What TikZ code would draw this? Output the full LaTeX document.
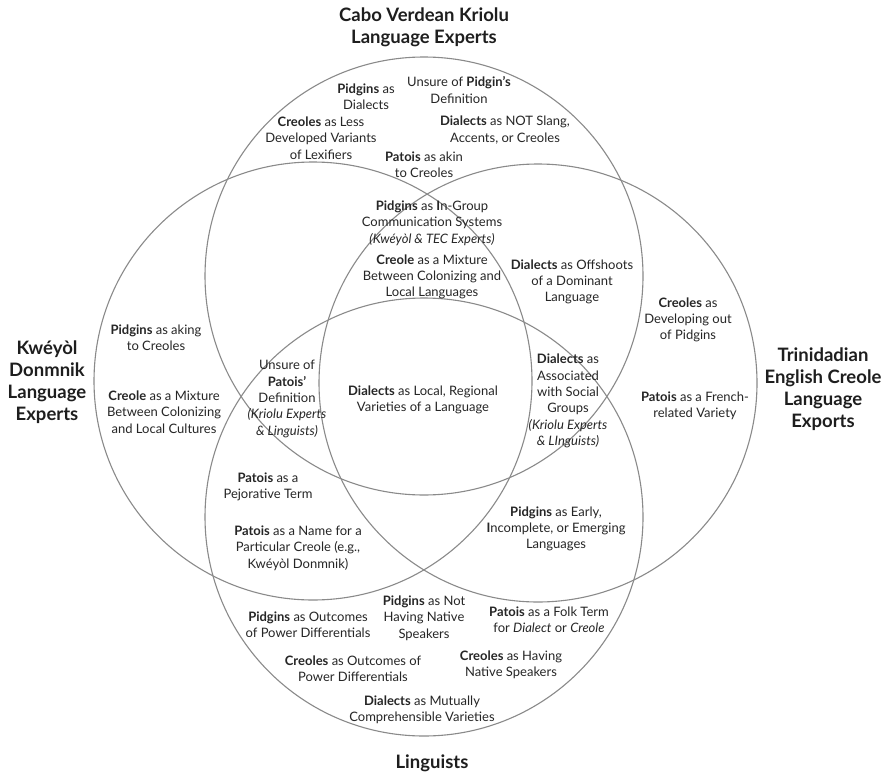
\documentclass[tikz,border=0pt]{standalone}
\usepackage{fontspec}
\setmainfont{Lato}
\definecolor{txt}{HTML}{262626}
\definecolor{ttlc}{HTML}{1E1E1E}
\definecolor{ringgray}{HTML}{8A8A8A}
\begin{document}
\begin{tikzpicture}[x=1pt,y=-1pt,
  venn/.style={circle,draw=ringgray,line width=1.1pt,minimum size=438pt,inner sep=0pt},
  lbl/.style={align=center,inner sep=0pt,text=txt,font=\fontsize{13}{16.3}\selectfont},
  ttl/.style={align=center,inner sep=0pt,text=ttlc,font=\fontsize{18.5}{22}\selectfont\bfseries}]
\useasboundingbox (0,0) rectangle (888,776);
\fill[white] (0,0) rectangle (888,776);
% circles
\node[venn] (cv) at (424,276) {};
\node[venn] (kd) at (313,381) {};
\node[venn] (tec) at (538,383) {};
\node[venn] (lin) at (424,517) {};
% titles
\node[ttl] (tcv) at (424,27) {Cabo Verdean Kriolu\\Language Experts};
\node[ttl] (tkd) at (47,382) {Kwéyòl\\Donmnik\\Language\\Experts};
\node[ttl] (ttec) at (823,389) {Trinidadian\\English Creole\\Language\\Exports};
\node[ttl] (tlin) at (432,763) {Linguists};
% top
\node[lbl] (a1) at (366,97) {\textbf{Pidgins} as\\Dialects};
\node[lbl] (a2) at (459,90) {Unsure of \textbf{Pidgin’s}\\Definition};
\node[lbl] (a3) at (321,138) {\textbf{Creoles} as Less\\Developed Variants\\of Lexifiers};
\node[lbl] (a4) at (505,130) {\textbf{Dialects} as NOT Slang,\\Accents, or Creoles};
\node[lbl] (a5) at (424,165) {\textbf{Patois} as akin\\to Creoles};
\node[lbl] (b1) at (432,223) {\textbf{Pidgins} as \textbf{I}n-Group\\Communication Systems\\\textit{(Kwéyòl \& TEC Experts)}};
\node[lbl] (b2) at (432,277) {\textbf{Creole} as a Mixture\\Between Colonizing and\\Local Languages};
\node[lbl] (b3) at (572,282) {\textbf{Dialects} as Offshoots\\of a Dominant\\Language};
% left
\node[lbl] (c1) at (156,338) {\textbf{Pidgins} as aking\\to Creoles};
\node[lbl] (c2) at (164,412) {\textbf{Creole} as a Mixture\\Between Colonizing\\and Local Cultures};
% right
\node[lbl] (d1) at (688,320) {\textbf{Creoles} as\\Developing out\\of Pidgins};
\node[lbl] (d2) at (695,406) {\textbf{Patois} as a French-\\related Variety};
% center
\node[lbl] (e1) at (287,399) {Unsure of\\\textbf{Patois’}\\Definition\\\textit{(Kriolu Experts}\\\textit{\& Linguists)}};
\node[lbl] (e2) at (423,400) {\textbf{Dialects} as Local, Regional\\Varieties of a Language};
\node[lbl] (e3) at (568,401) {\textbf{Dialects} as\\Associated\\with Social\\Groups\\\textit{(Kriolu Experts}\\\textit{\& LInguists)}};
% lower
\node[lbl] (f1) at (268,487) {\textbf{Patois} as a\\Pejorative Term};
\node[lbl] (f2) at (298,548) {\textbf{Patois} as a Name for a\\Particular Creole (e.g.,\\Kwéyòl Donmnik)};
\node[lbl] (f3) at (556,529) {\textbf{Pidgins} as Early,\\\textbf{I}ncomplete, or Emerging\\Languages};
% bottom
\node[lbl] (g1) at (308,625) {\textbf{Pidgins} as Outcomes\\of Power Differentials};
\node[lbl] (g2) at (424,618) {\textbf{Pidgins} as Not\\Having Native\\Speakers};
\node[lbl] (g3) at (549,620) {\textbf{Patois} as a Folk Term\\for \textit{Dialect} or \textit{Creole}};
\node[lbl] (g4) at (353,669) {\textbf{Creoles} as Outcomes of\\Power Differentials};
\node[lbl] (g5) at (511,665) {\textbf{Creoles} as Having\\Native Speakers};
\node[lbl] (g6) at (422,710) {\textbf{Dialects} as Mutually\\Comprehensible Varieties};
\end{tikzpicture}
\end{document}
